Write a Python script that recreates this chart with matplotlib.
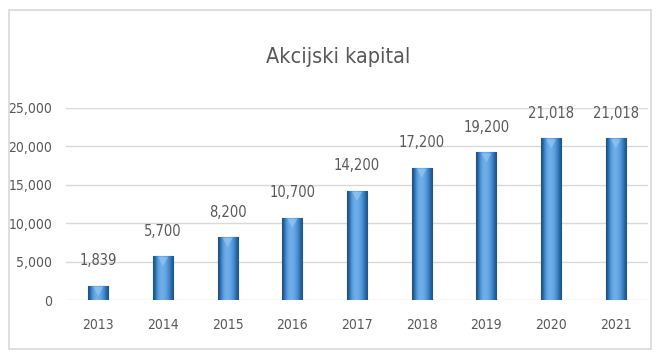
import matplotlib.pyplot as plt
import numpy as np
from matplotlib.patches import Rectangle

years = ['2013', '2014', '2015', '2016', '2017', '2018', '2019', '2020', '2021']
kapital = [1839, 5700, 8200, 10700, 14200, 17200, 19200, 21018, 21018]
y_ticks = [0, 5000, 10000, 15000, 20000, 25000]

plt.rcParams['font.family'] = ['DejaVu Sans']
plt.rcParams['font.stretch'] = 'condensed'
siva = '#595959'

fig = plt.figure(figsize=(6.57, 3.56), dpi=100)
# okvir grafikona
fig.patches.append(Rectangle((0.013, 0.02), 0.978, 0.952, transform=fig.transFigure,
                             fill=False, edgecolor='#d9d9d9', linewidth=1.2))
ax = fig.add_axes([0.1005, 0.157, 0.886, 0.54])

x = np.arange(len(years))
bars = ax.bar(x, kapital, width=0.31, color='#3d85cc', edgecolor='#1f4e79',
              linewidth=0.8, zorder=3)

# gradijent preko stubica
grad = np.array([[0.0, 0.55, 0.9, 1.0, 0.9, 0.7, 0.4, 0.05]])
cmap = plt.matplotlib.colors.LinearSegmentedColormap.from_list(
    'plavo', ['#1d4f80', '#4189d0', '#72b0ea'])
for b in bars:
    x0, w, h = b.get_x(), b.get_width(), b.get_height()
    im = ax.imshow(grad, cmap=cmap, aspect='auto', extent=[x0, x0 + w, 0, h],
                   zorder=3.5, interpolation='bicubic')
    im.set_clip_path(b)
    # svijetli trokut na vrhu
    ax.fill([x0 + w * 0.25, x0 + w * 0.75, x0 + w * 0.5],
            [h - 120, h - 120, h - 1300], color='#9ccbf2', alpha=0.6,
            zorder=4, linewidth=0)

for xi, v in zip(x, kapital):
    ax.text(xi, v + 3250, f'{v:,}', ha='center', va='center', fontsize=10.5, color=siva)

ax.set_xlim(-0.5, len(years) - 0.5)
ax.set_ylim(0, 25000)
ax.set_yticks(y_ticks)
ax.set_yticklabels([f'{t:,}' for t in y_ticks])
ax.set_xticks(x)
ax.set_xticklabels(years)
ax.tick_params(axis='both', length=0, labelsize=10, colors=siva)
ax.tick_params(axis='x', pad=13)
ax.tick_params(axis='y', pad=10)
ax.grid(axis='y', color='#d9d9d9', linewidth=1, zorder=0)
for s in ax.spines.values():
    s.set_visible(False)

fig.text(0.515, 0.84, 'Akcijski kapital', ha='center', va='center', fontsize=15.5, color=siva)

plt.savefig('out.png', dpi=100)
